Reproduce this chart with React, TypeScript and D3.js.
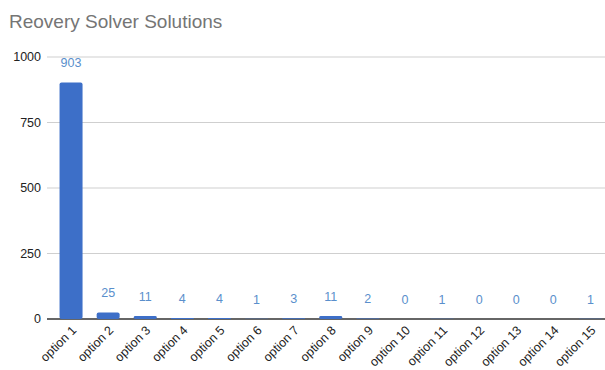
import React from "react";
import * as d3 from "d3";

const categories = ["option 1","option 2","option 3","option 4","option 5","option 6","option 7","option 8","option 9","option 10","option 11","option 12","option 13","option 14","option 15"];
const values = [903, 25, 11, 4, 4, 1, 3, 11, 2, 0, 1, 0, 0, 0, 1];
const yTicks = [0, 250, 500, 750, 1000];
const title = "Reovery Solver Solutions";

export default function App() {
  const W = 605, H = 370;
  const x = d3.scaleBand<string>().domain(categories).range([52.5, 609]).paddingInner(0.38).paddingOuter(0.19);
  const y = d3.scaleLinear().domain([0, 1000]).range([319, 57]);
  const font = "Arial, 'Liberation Sans', sans-serif";
  return (
    <svg width={W} height={H} style={{ position: "absolute", left: 0, top: 0, background: "#fff" }} fontFamily={font}>
      <text x={9} y={28} fontSize={19} fill="#757575">{title}</text>
      {yTicks.map((t) => (
        <g key={t}>
          <line x1={47} x2={W} y1={y(t)} y2={y(t)} stroke={t === 0 ? "#333" : "#cfcfcf"} strokeWidth={t === 0 ? 1.3 : 1} />
          <text x={41} y={y(t) + 4} fontSize={12.5} textAnchor="end" fill="#222">{t}</text>
        </g>
      ))}
      {categories.map((c, i) => {
        const bx = x(c)!;
        const bw = x.bandwidth();
        const top = y(values[i]);
        const h = y(0) - top;
        return (
          <g key={c}>
            {h > 0 && <rect x={bx} y={top} width={bw} height={h} rx={Math.min(2, h / 2)} fill="#3d6fc8" />}
            <text x={bx + bw / 2} y={top - 15} fontSize={12.5} textAnchor="middle" fill="#5a8fcc">{values[i]}</text>
            <text transform={`translate(${bx + bw / 2 + 6},${331}) rotate(-45)`} fontSize={12.5} textAnchor="end" fill="#222">{c}</text>
          </g>
        );
      })}
    </svg>
  );
}
